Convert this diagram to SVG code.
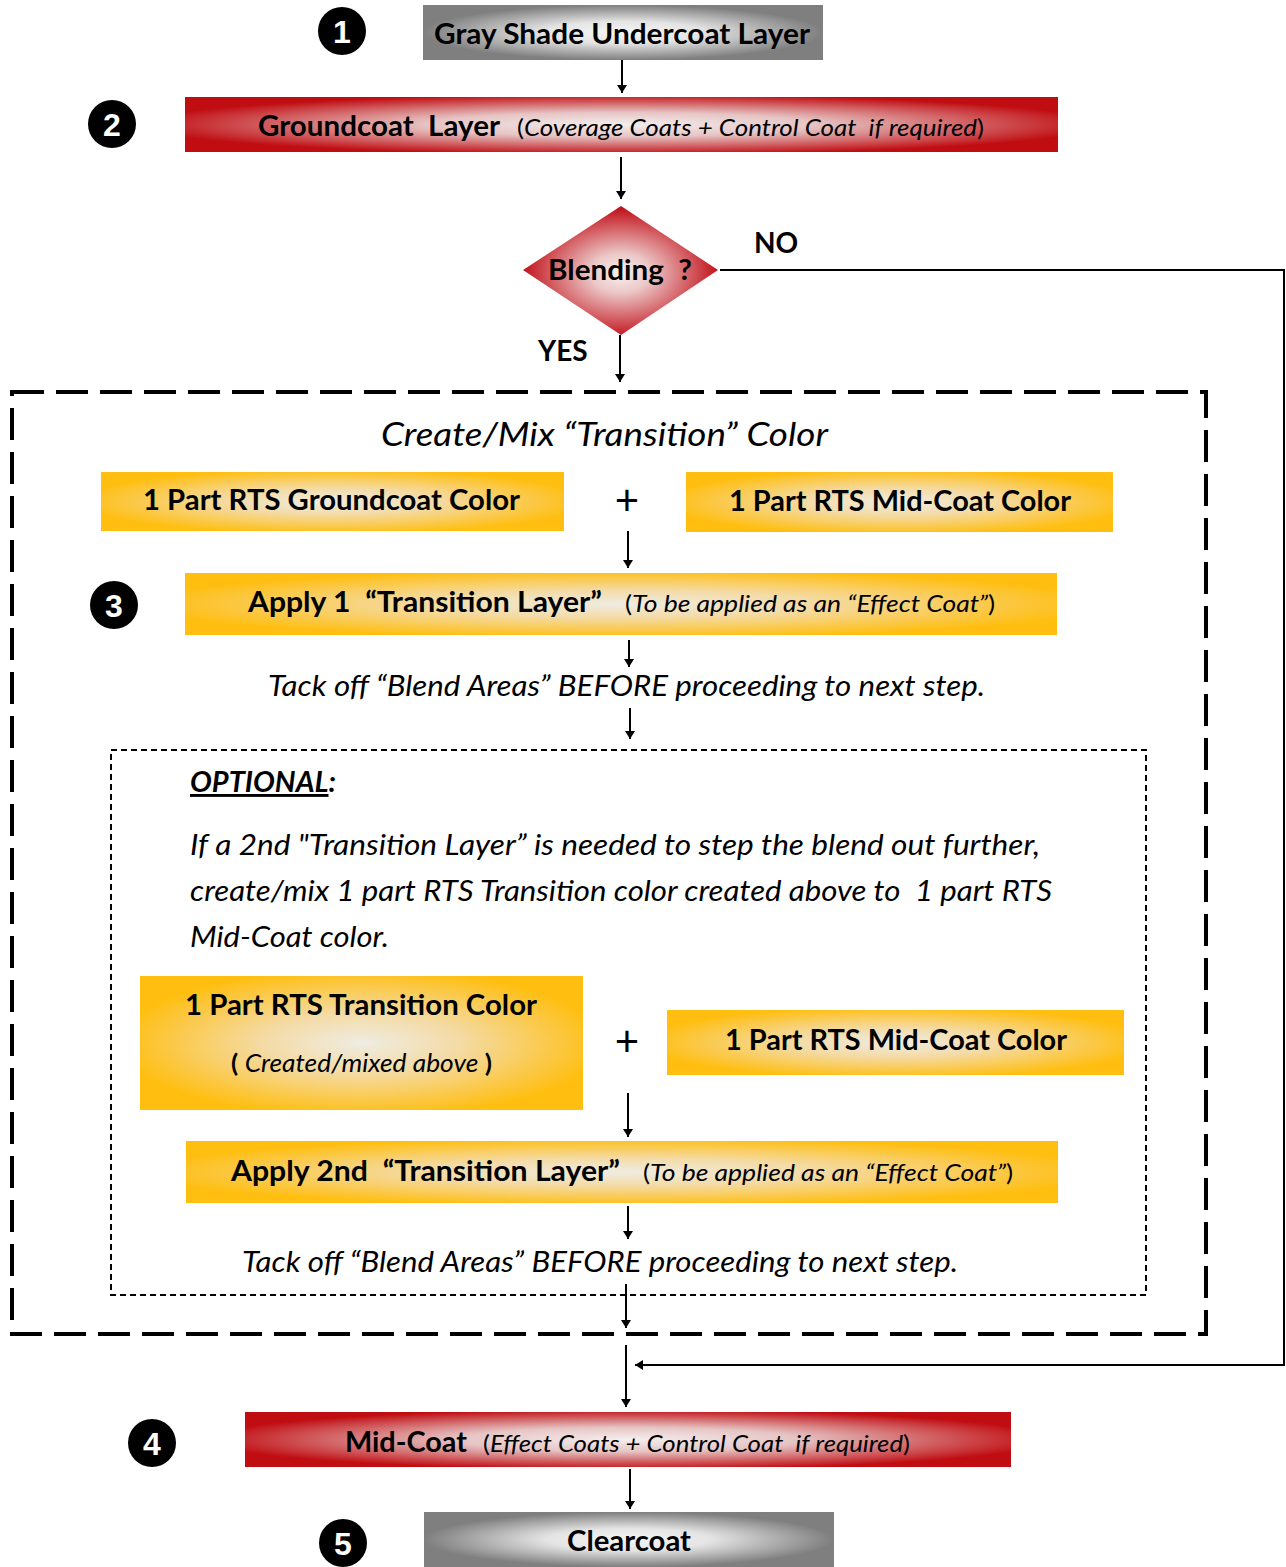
<svg xmlns="http://www.w3.org/2000/svg" width="1286" height="1567" viewBox="0 0 1286 1567">
<defs>
<radialGradient id="gGray" cx="0.5" cy="0.5" r="0.5">
<stop offset="0" stop-color="#f6f6f6"/><stop offset="0.4" stop-color="#e4e4e4"/><stop offset="1" stop-color="#7f7f7f"/>
</radialGradient>
<radialGradient id="gRed" cx="0.5" cy="0.5" r="0.55">
<stop offset="0" stop-color="#f4eeee"/><stop offset="0.4" stop-color="#e6c4c4"/><stop offset="1" stop-color="#c00d12"/>
</radialGradient>
<radialGradient id="gDia" cx="0.5" cy="0.52" r="0.5">
<stop offset="0" stop-color="#f8f0f0"/><stop offset="0.3" stop-color="#ecc8c8"/><stop offset="1" stop-color="#c2121b"/>
</radialGradient>
<radialGradient id="gYel" cx="0.5" cy="0.5" r="0.55">
<stop offset="0" stop-color="#efece2"/><stop offset="0.4" stop-color="#f4dba6"/><stop offset="1" stop-color="#ffbe10"/>
</radialGradient>
<marker id="ah" viewBox="0 0 8 10" refX="8" refY="5" markerWidth="8" markerHeight="10" markerUnits="userSpaceOnUse" orient="auto">
<path d="M0,0 L8,5 L0,10 z" fill="#000"/>
</marker>
</defs>
<style>
text{font-family:Lato,"Open Sans","DejaVu Sans",sans-serif;fill:#000;white-space:pre}
.b{font-weight:bold;font-size:28px}
.i{font-style:italic;font-weight:normal}
.badge circle{fill:#000}
.badge text{fill:#fff;font-family:"Liberation Sans",Arial,sans-serif;font-weight:bold;font-size:32px;text-anchor:middle}
.c{text-anchor:middle}
.ln{stroke:#000;stroke-width:2;fill:none}
</style>
<rect width="1286" height="1567" fill="#fff"/>

<g id="badge1" class="badge"><circle cx="342" cy="31" r="24"/><text x="342" y="43">1</text></g>
<g id="badge2" class="badge"><circle cx="112" cy="124" r="24"/><text x="112" y="136">2</text></g>
<g id="badge3" class="badge"><circle cx="114" cy="605" r="24"/><text x="114" y="617">3</text></g>
<g id="badge4" class="badge"><circle cx="152" cy="1443" r="24"/><text x="152" y="1455">4</text></g>
<g id="badge5" class="badge"><circle cx="343" cy="1543" r="24"/><text x="343" y="1555">5</text></g>

<g id="undercoat"><rect x="423" y="5" width="400" height="55" fill="url(#gGray)"/>
<text class="b" x="434" y="44" textLength="376" lengthAdjust="spacingAndGlyphs">Gray Shade Undercoat Layer</text></g>

<g id="groundcoat"><rect x="185" y="97" width="873" height="55" fill="url(#gRed)"/>
<text class="b" x="258" y="136" textLength="242" lengthAdjust="spacingAndGlyphs">Groundcoat  Layer</text>
<text x="517" y="136" font-size="24" textLength="467" lengthAdjust="spacingAndGlyphs">(<tspan class="i">Coverage Coats + Control Coat  if required</tspan>)</text></g>

<g id="blending"><polygon points="621,206 718,270 621,335 523,270" fill="url(#gDia)"/>
<text class="b" x="548" y="280" textLength="144" lengthAdjust="spacingAndGlyphs">Blending  ?</text></g>

<g id="labels">
<text class="b" x="754" y="253" font-size="26">NO</text>
<text class="b" x="538" y="361" font-size="26">YES</text>
</g>

<g id="transitionGroup">
<rect x="12" y="392" width="1194" height="942" fill="none" stroke="#000" stroke-width="4" stroke-dasharray="32,12"/>
<text class="i" x="381" y="446" font-size="33" font-weight="300" textLength="447" lengthAdjust="spacingAndGlyphs">Create/Mix “Transition” Color</text>
</g>

<g id="rtsGround"><rect x="101" y="472" width="463" height="59" fill="url(#gYel)"/>
<text class="b" x="143" y="510" textLength="377" lengthAdjust="spacingAndGlyphs">1 Part RTS Groundcoat Color</text></g>
<text id="plus1" class="c" x="627" y="515" font-size="42">+</text>
<g id="rtsMid1"><rect x="686" y="472" width="427" height="60" fill="url(#gYel)"/>
<text class="b" x="729" y="511" textLength="342" lengthAdjust="spacingAndGlyphs">1 Part RTS Mid-Coat Color</text></g>

<g id="apply1"><rect x="185" y="573" width="872" height="62" fill="url(#gYel)"/>
<text class="b" x="248" y="612" textLength="354" lengthAdjust="spacingAndGlyphs">Apply 1  “Transition Layer”</text>
<text x="625" y="612" font-size="23" textLength="370" lengthAdjust="spacingAndGlyphs">(<tspan class="i">To be applied as an “Effect Coat”</tspan>)</text></g>

<text id="tack1" class="i" x="268" y="696" font-size="29" textLength="717" lengthAdjust="spacingAndGlyphs">Tack off “Blend Areas” BEFORE proceeding to next step.</text>

<g id="optional">
<rect x="111" y="750" width="1035" height="545" fill="none" stroke="#000" stroke-width="2" stroke-dasharray="6,4"/>
<text x="190" y="792" font-size="29" font-weight="bold" font-style="italic" textLength="146" lengthAdjust="spacingAndGlyphs"><tspan text-decoration="underline">OPTIONAL</tspan>:</text>
<text class="i" x="190" y="855" font-size="29" textLength="850" lengthAdjust="spacingAndGlyphs">If a 2nd "Transition Layer” is needed to step the blend out further,</text>
<text class="i" x="190" y="901" font-size="29" textLength="862" lengthAdjust="spacingAndGlyphs">create/mix 1 part RTS Transition color created above to  1 part RTS</text>
<text class="i" x="190" y="947" font-size="29" textLength="199" lengthAdjust="spacingAndGlyphs">Mid-Coat color.</text>
</g>

<g id="rtsTrans"><rect x="140" y="976" width="443" height="134" fill="url(#gYel)"/>
<text class="b" x="185" y="1015" textLength="352" lengthAdjust="spacingAndGlyphs">1 Part RTS Transition Color</text>
<text x="231" y="1072" font-size="25" textLength="261" lengthAdjust="spacingAndGlyphs"><tspan font-weight="bold">( </tspan><tspan class="i">Created/mixed above</tspan><tspan font-weight="bold"> )</tspan></text></g>
<text id="plus2" class="c" x="627" y="1056" font-size="42">+</text>
<g id="rtsMid2"><rect x="667" y="1010" width="457" height="65" fill="url(#gYel)"/>
<text class="b" x="725" y="1050" textLength="342" lengthAdjust="spacingAndGlyphs">1 Part RTS Mid-Coat Color</text></g>

<g id="apply2"><rect x="186" y="1141" width="872" height="62" fill="url(#gYel)"/>
<text class="b" x="231" y="1181" textLength="389" lengthAdjust="spacingAndGlyphs">Apply 2nd  “Transition Layer”</text>
<text x="643" y="1181" font-size="23" textLength="370" lengthAdjust="spacingAndGlyphs">(<tspan class="i">To be applied as an “Effect Coat”</tspan>)</text></g>

<text id="tack2" class="i" x="242" y="1272" font-size="29" textLength="716" lengthAdjust="spacingAndGlyphs">Tack off “Blend Areas” BEFORE proceeding to next step.</text>

<g id="midcoat"><rect x="245" y="1412" width="766" height="55" fill="url(#gRed)"/>
<text class="b" x="345" y="1452" textLength="122" lengthAdjust="spacingAndGlyphs">Mid-Coat</text>
<text x="483" y="1452" font-size="24" textLength="427" lengthAdjust="spacingAndGlyphs">(<tspan class="i">Effect Coats + Control Coat  if required</tspan>)</text></g>

<g id="clearcoat"><rect x="424" y="1512" width="410" height="55" fill="url(#gGray)"/>
<text class="b" x="567" y="1551" textLength="124" lengthAdjust="spacingAndGlyphs">Clearcoat</text></g>

<g id="connectors" class="ln">
<line x1="622" y1="60" x2="622" y2="93" marker-end="url(#ah)"/>
<line x1="621" y1="157" x2="621" y2="199" marker-end="url(#ah)"/>
<line x1="620" y1="335" x2="620" y2="382" marker-end="url(#ah)"/>
<line x1="628" y1="531" x2="628" y2="568" marker-end="url(#ah)"/>
<line x1="629" y1="640" x2="629" y2="667" marker-end="url(#ah)"/>
<line x1="630" y1="708" x2="630" y2="739" marker-end="url(#ah)"/>
<line x1="628" y1="1093" x2="628" y2="1137" marker-end="url(#ah)"/>
<line x1="628" y1="1206" x2="628" y2="1239" marker-end="url(#ah)"/>
<line x1="626" y1="1284" x2="626" y2="1328" marker-end="url(#ah)"/>
<line x1="626" y1="1345" x2="626" y2="1407" marker-end="url(#ah)"/>
<line x1="630" y1="1469" x2="630" y2="1509" marker-end="url(#ah)"/>
<polyline points="720,270 1284,270 1284,1365 635,1365" marker-end="url(#ah)"/>
</g>
</svg>
